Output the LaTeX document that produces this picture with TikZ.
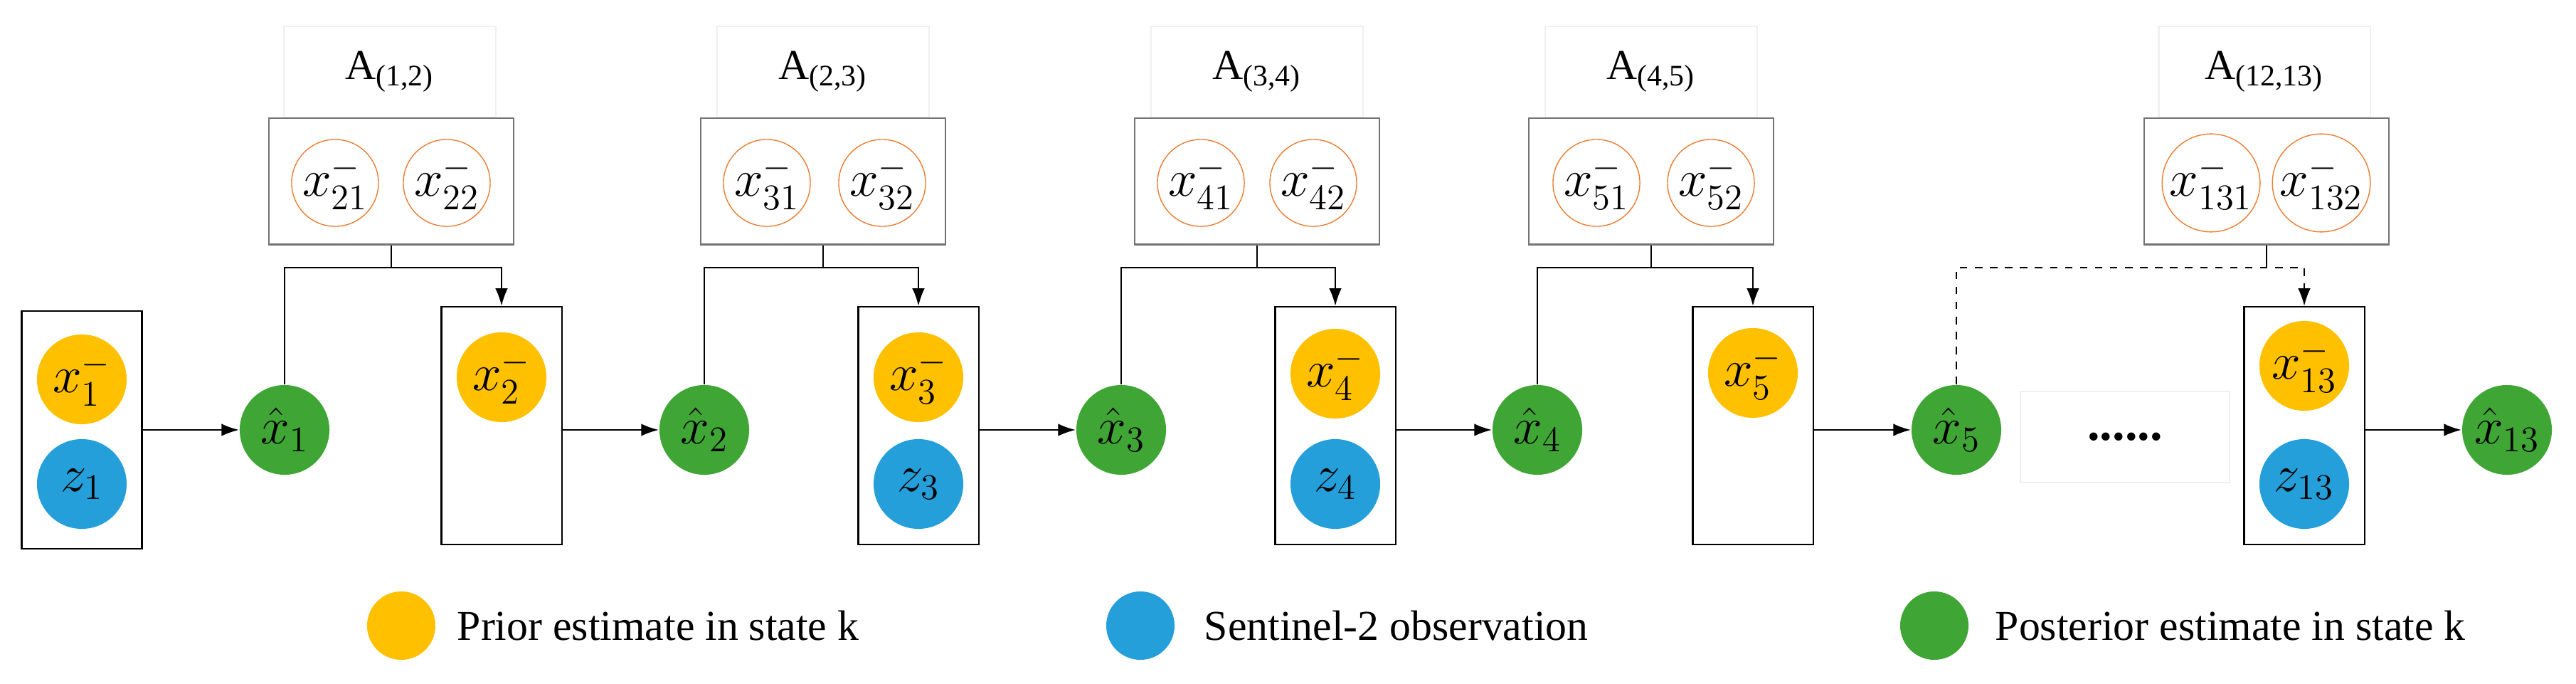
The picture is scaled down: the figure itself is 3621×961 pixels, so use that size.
\documentclass[tikz,border=0pt]{standalone}
\usepackage{fontspec}
\setmainfont{Liberation Serif}
\usetikzlibrary{arrows.meta}
\definecolor{prior}{HTML}{FFC000}
\definecolor{obs}{HTML}{249FDA}
\definecolor{post}{HTML}{3FA535}
\definecolor{ring}{HTML}{ED7D31}
\begin{document}
\begin{tikzpicture}[x=0.01cm, y=-0.01cm, >={Latex[length=7pt,width=5pt]}, line width=0.6pt]
  \useasboundingbox (0,0) rectangle (3621,961);
  \tikzstyle{state}=[circle, minimum size=1.26cm, inner sep=0pt, font=\fontsize{20}{24}\selectfont]
  \tikzstyle{prior}=[fill=prior]
  \tikzstyle{obs}=[fill=obs]
  \tikzstyle{post}=[fill=post]
  \tikzstyle{sub}=[circle, draw=ring, line width=0.4pt, minimum size=1.22cm, inner sep=0pt, font=\fontsize{20}{24}\selectfont]
  \tikzstyle{group}=[draw=black!55, minimum width=3.43cm, minimum height=1.77cm]
  \tikzstyle{title}=[draw=black!6, minimum width=2.97cm, minimum height=1.28cm, font=\fontsize{17}{20}\selectfont]
  \tikzstyle{box}=[draw, minimum width=1.69cm, minimum height=3.34cm]
  \tikzstyle{key}=[circle, minimum size=0.96cm, inner sep=0pt]
  \tikzstyle{keytext}=[anchor=west, font=\fontsize{17}{20}\selectfont]

  % Kasten mit Vorhersage und Beobachtung
  \node[box] (b1)  at (115, 604)  {};
  \node[box] (b2)  at (705, 598)  {};
  \node[box] (b3)  at (1291, 598) {};
  \node[box] (b4)  at (1877, 598) {};
  \node[box] (b5)  at (2464, 598) {};
  \node[box] (b13) at (3239, 598) {};

  \node[state, prior] (p1)  at (115, 533)  {$x_1^-$};
  \node[state, obs]   (z1)  at (115, 680)  {$z_1$};
  \node[state, prior] (p2)  at (705, 530)  {$x_2^-$};
  \node[state, prior] (p3)  at (1291, 530) {$x_3^-$};
  \node[state, obs]   (z3)  at (1291, 680) {$z_3$};
  \node[state, prior] (p4)  at (1877, 525) {$x_4^-$};
  \node[state, obs]   (z4)  at (1877, 680) {$z_4$};
  \node[state, prior] (p5)  at (2464, 524) {$x_5^-$};
  \node[state, prior] (p13) at (3239, 514) {$x_{13}^-$};
  \node[state, obs]   (z13) at (3239, 680) {$z_{13}$};

  % Posteriori
  \node[state, post] (x1)  at (400, 604)  {$\hat{x}_1$};
  \node[state, post] (x2)  at (990, 604)  {$\hat{x}_2$};
  \node[state, post] (x3)  at (1576, 604) {$\hat{x}_3$};
  \node[state, post] (x4)  at (2161, 604) {$\hat{x}_4$};
  \node[state, post] (x5)  at (2750, 604) {$\hat{x}_5$};
  \node[state, post] (x13) at (3524, 604) {$\hat{x}_{13}$};

  \node[draw=black!6, minimum width=2.94cm, minimum height=1.28cm, font=\fontsize{20}{24}\selectfont\bfseries] (dots) at (2987, 614) {......};

  % Uebergaenge
  \node[title] (a1)  at (548, 101)  {A\textsubscript{(1,2)}};
  \node[title] (a2)  at (1157, 101) {A\textsubscript{(2,3)}};
  \node[title] (a3)  at (1767, 101) {A\textsubscript{(3,4)}};
  \node[title] (a4)  at (2321, 101) {A\textsubscript{(4,5)}};
  \node[title] (a13) at (3183, 101) {A\textsubscript{(12,13)}};

  \node[group] (g1)  at (550, 255)  {};
  \node[group] (g2)  at (1157, 255) {};
  \node[group] (g3)  at (1767, 255) {};
  \node[group] (g4)  at (2321, 255) {};
  \node[group] (g13) at (3186, 255) {};

  \node[sub] (s21)  at (471, 257)  {$x_{21}^-$};
  \node[sub] (s22)  at (628, 257)  {$x_{22}^-$};
  \node[sub] (s31)  at (1078, 257) {$x_{31}^-$};
  \node[sub] (s32)  at (1240, 257) {$x_{32}^-$};
  \node[sub] (s41)  at (1688, 257) {$x_{41}^-$};
  \node[sub] (s42)  at (1846, 257) {$x_{42}^-$};
  \node[sub] (s51)  at (2244, 257) {$x_{51}^-$};
  \node[sub] (s52)  at (2405, 257) {$x_{52}^-$};
  \node[sub] (s131) at (3108, 257) {$x_{131}^-$};
  \node[sub] (s132) at (3263, 257) {$x_{132}^-$};

  \coordinate (j1)  at (550, 376);
  \coordinate (j2)  at (1157, 376);
  \coordinate (j3)  at (1767, 376);
  \coordinate (j4)  at (2321, 376);
  \coordinate (j13) at (3186, 376);

  \draw (g1.south) -- (j1);
  \draw (g2.south) -- (j2);
  \draw (g3.south) -- (j3);
  \draw (g4.south) -- (j4);
  \draw (g13.south) -- (j13);

  \draw[->] (x1.north) |- (j1) -| (b2.north);
  \draw[->] (x2.north) |- (j2) -| (b3.north);
  \draw[->] (x3.north) |- (j3) -| (b4.north);
  \draw[->] (x4.north) |- (j4) -| (b5.north);
  \draw[->, dashed] (x5.north) |- (j13) -| (b13.north);

  \draw[->] (b1.east) -- (x1.west);
  \draw[->] (b2.east |- x2) -- (x2.west);
  \draw[->] (b3.east |- x3) -- (x3.west);
  \draw[->] (b4.east |- x4) -- (x4.west);
  \draw[->] (b5.east |- x5) -- (x5.west);
  \draw[->] (b13.east |- x13) -- (x13.west);

  % Legende
  \node[key, prior] (k1) at (564, 879)  {};
  \node[keytext] (t1) at (630, 879)     {Prior estimate in state k};
  \node[key, obs]   (k2) at (1603, 879) {};
  \node[keytext] (t2) at (1680, 879)    {Sentinel-2 observation};
  \node[key, post]  (k3) at (2719, 879) {};
  \node[keytext] (t3) at (2792, 879)    {Posterior estimate in state k};
\end{tikzpicture}
\end{document}
